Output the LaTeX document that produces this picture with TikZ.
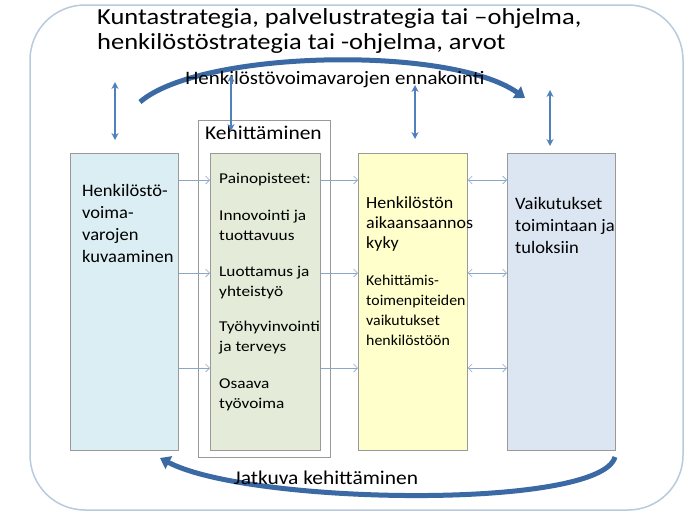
\documentclass[tikz,border=0pt]{standalone}
\usepackage{fontspec}
\setmainfont{Carlito}
\usetikzlibrary{arrows.meta}
\definecolor{ab}{HTML}{4F81BD}
\definecolor{dk}{HTML}{3A69A4}
\definecolor{lg}{HTML}{8AA6C9}
\definecolor{fa}{HTML}{DAEEF3}
\definecolor{fb}{HTML}{E4EBD8}
\definecolor{fc}{HTML}{FFFFCC}
\definecolor{fd}{HTML}{DCE6F2}
\tikzset{
 col/.style={draw=gray!80,line width=0.8pt},
 vv/.style={ab,line width=1.6pt,{Stealth[length=7pt,width=7pt]}-{Stealth[length=7pt,width=7pt]}},
 sm/.style={lg,line width=0.6pt,-{Straight Barb[length=4pt]}},
 smd/.style={lg,line width=0.6pt,{Straight Barb[length=4pt]}-{Straight Barb[length=4pt]}},
 big/.style={dk,line width=5pt,-{Triangle[length=10pt,width=14pt]}},
 txt/.style={align=left,anchor=north west,inner sep=0pt,xscale=1.15,font=\fontsize{15pt}{20pt}\selectfont},
}
\begin{document}
\begin{tikzpicture}[x=1pt,y=-1pt]
\useasboundingbox (0,0) rectangle (698,523);
\draw[lg!60,line width=1.5pt,rounded corners=55pt] (30,5) rectangle (683,510);
\node[anchor=north west,inner sep=0pt,align=left,xscale=1.15,font=\fontsize{23pt}{25pt}\selectfont] (title) at (97,8) {Kuntastrategia, palvelustrategia tai –ohjelma,\\henkilöstöstrategia tai -ohjelma, arvot};
\draw[big] (140,102) .. controls (200,50) and (450,45) .. (525,98);
\node[xscale=1.1,font=\fontsize{19pt}{20pt}\selectfont] (enn) at (335,80) {Henkilöstövoimavarojen ennakointi};
\node[col,fill=white,minimum width=132pt,minimum height=337pt,anchor=north west] (keh) at (198,120) {};
\node[anchor=north west,inner sep=0pt,xscale=1.1,font=\fontsize{19.5pt}{20pt}\selectfont] (kehl) at (205,126) {Kehittäminen};
\node[col,fill=fa,minimum width=108pt,minimum height=297pt,anchor=north west] (a) at (70,153) {};
\node[col,fill=fb,minimum width=110pt,minimum height=297pt,anchor=north west] (b) at (210,153) {};
\node[col,fill=fc,minimum width=109pt,minimum height=297pt,anchor=north west] (c) at (358,153) {};
\node[col,fill=fd,minimum width=108pt,minimum height=297pt,anchor=north west] (d) at (507,153) {};
\node[txt,xscale=0.92,font=\fontsize{17.5pt}{22pt}\selectfont] (at) at (82,184) {Henkilöstö-\\voima-\\varojen\\kuvaaminen};
\node[txt] (bt1) at (219,173) {Painopisteet:};
\node[txt] (bt2) at (219,210) {Innovointi ja\\tuottavuus};
\node[txt] (bt3) at (219,266) {Luottamus ja\\yhteistyö};
\node[txt] (bt4) at (219,321) {Työhyvinvointi\\ja terveys};
\node[txt] (bt5) at (219,379) {Osaava\\työvoima};
\node[txt,xscale=0.92,font=\fontsize{17pt}{20pt}\selectfont] (ct1) at (366,196) {Henkilöstön\\aikaansaannos\\kyky};
\node[txt,xscale=0.92] (ct2) at (366,275) {Kehittämis-\\toimenpiteiden\\vaikutukset\\henkilöstöön};
\node[txt,xscale=0.92,font=\fontsize{17.5pt}{22pt}\selectfont] (dt) at (515,197) {Vaikutukset\\toimintaan ja\\tuloksiin};
\foreach \y in {180,273,368}{
 \draw[sm] (a.east |- 0,\y) -- (b.west |- 0,\y);
 \draw[sm] (b.east |- 0,\y) -- (c.west |- 0,\y);
 \draw[smd] (c.east |- 0,\y) -- (d.west |- 0,\y);
}
\coordinate (v1a) at (115,82); \coordinate (v1b) at (115,140);
\coordinate (v2a) at (231,75); \coordinate (v2b) at (231,131);
\coordinate (v3a) at (415,85); \coordinate (v3b) at (415,139);
\coordinate (v4a) at (550,90); \coordinate (v4b) at (550,146);
\draw[vv] (v1a) -- (v1b);
\draw[vv] (v2a) -- (v2b);
\draw[vv] (v3a) -- (v3b);
\draw[vv] (v4a) -- (v4b);
\draw[big] (615,457) .. controls (600,510) and (250,505) .. (160,458);
\node[xscale=1.1,font=\fontsize{19.5pt}{20pt}\selectfont] (jk) at (326,478) {Jatkuva kehittäminen};
\end{tikzpicture}
\end{document}
